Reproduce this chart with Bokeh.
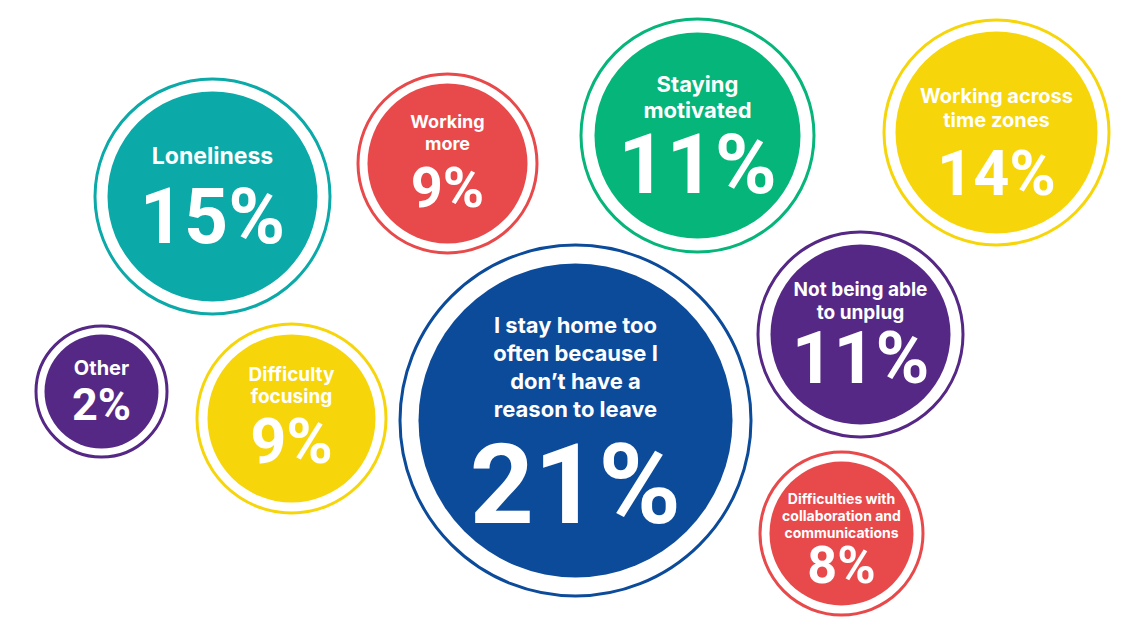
from bokeh.plotting import figure
from bokeh.models import ColumnDataSource, Range1d
from bokeh.core.properties import value
from bokeh.embed import file_html
from bokeh.resources import INLINE

# ---- data ----
categories = ["Loneliness", "Working more", "Staying motivated", "Working across time zones",
              "Other", "Difficulty focusing",
              "I stay home too often because I don\u2019t have a reason to leave",
              "Not being able to unplug", "Difficulties with collaboration and communications"]
values = [15, 9, 11, 14, 2, 9, 21, 11, 8]
label_lines = [["Loneliness"], ["Working", "more"], ["Staying", "motivated"],
               ["Working across", "time zones"], ["Other"], ["Difficulty", "focusing"],
               ["I stay home too", "often because I", "don\u2019t have a", "reason to leave"],
               ["Not being able", "to unplug"],
               ["Difficulties with", "collaboration and", "communications"]]

# ---- layout (bubble placement, in page pixels) ----
bx = [212, 447, 697, 996, 101, 291, 575, 860, 841]
by = [196, 163, 135, 132, 391, 418, 420, 334, 533]
r_out = [119, 91, 118, 114, 67, 96, 177, 104, 83]
r_in = [105, 80, 103, 101, 57, 84, 157, 90, 72]
colors = ["#0BA9A8", "#E8494A", "#05B57A", "#F6D60B", "#562886", "#F6D60B", "#0C4A9A", "#562886", "#E8494A"]
label_base = [164, 127, 91, 102, 374, 381, 332, 296, 503]
label_step = [0, 22, 26, 24, 0, 22, 28, 23, 17]
label_size = [23, 18, 22, 20, 20, 19, 22, 19, 14]
pct_base = [243, 207, 193, 195, 420, 463, 523, 383, 583]
pct_size = [77, 56, 84, 63, 45, 63, 112, 73, 52]
BASE_SHIFT = 0.35  # em correction for the renderer's baseline placement

W, H = 1122, 621
p = figure(width=W, height=H, output_backend="svg", toolbar_location=None,
           x_range=Range1d(0, W), y_range=Range1d(H, 0),
           min_border=0, border_fill_color="white", background_fill_color="white")
p.axis.visible = False
p.grid.visible = False
p.outline_line_color = None

ring = ColumnDataSource(dict(x=bx, y=by, r=[r - 1.5 for r in r_out], c=colors))
fill = ColumnDataSource(dict(x=bx, y=by, r=r_in, c=colors))
p.circle(x="x", y="y", radius="r", source=ring, fill_color=None, line_color="c", line_width=3)
p.circle(x="x", y="y", radius="r", source=fill, fill_color="c", line_color=None)

lx, ly, lt, ls = [], [], [], []
for i, lines in enumerate(label_lines):
    for j, t in enumerate(lines):
        lx.append(bx[i])
        ly.append(label_base[i] + j * label_step[i] - BASE_SHIFT * label_size[i])
        lt.append(t)
        ls.append(f"{label_size[i]}px")
p.text(x="x", y="y", text="t", text_font_size="s",
       source=ColumnDataSource(dict(x=lx, y=ly, t=lt, s=ls)),
       text_font=value("Inter"), text_font_style="bold", text_color="white",
       text_align="center", text_baseline="alphabetic")

py = [b - BASE_SHIFT * s for b, s in zip(pct_base, pct_size)]
p.text(x="x", y="y", text="t", text_font_size="s",
       source=ColumnDataSource(dict(x=bx, y=py, t=[f"{v}%" for v in values],
                                    s=[f"{s}px" for s in pct_size])),
       text_font=value("Roboto"), text_font_style="bold", text_color="white",
       text_align="center", text_baseline="alphabetic")

open("out.html", "w").write(file_html(p, INLINE))
